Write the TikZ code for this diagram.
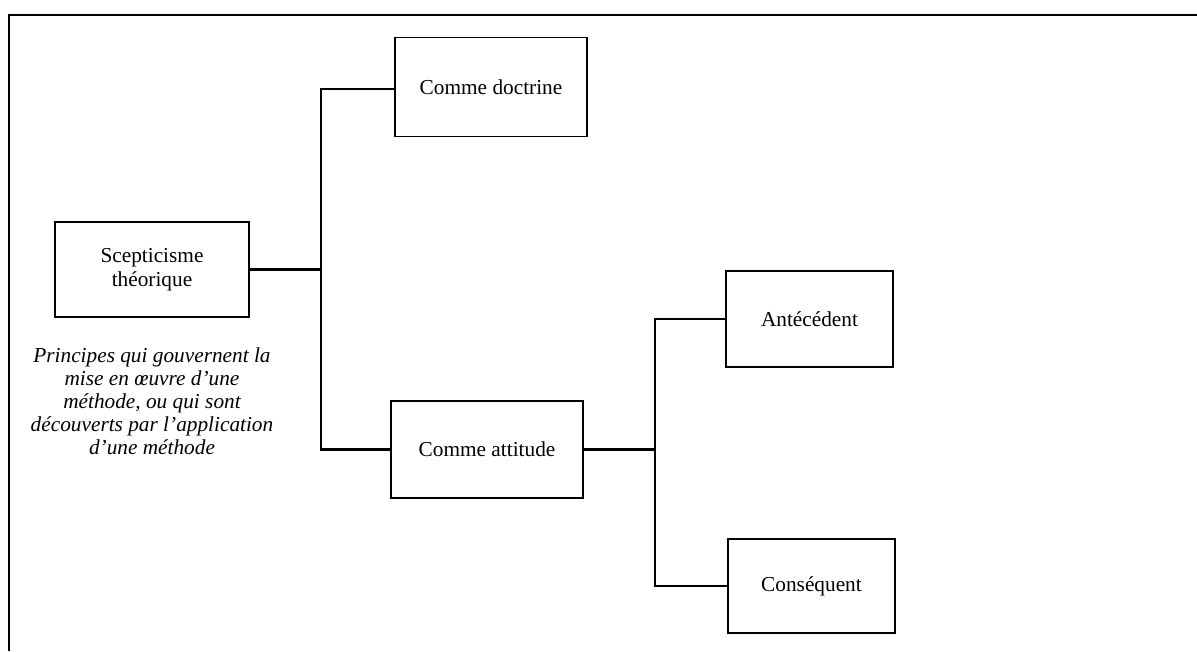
\documentclass[tikz,border=0pt]{standalone}
\usepackage{fontspec}
\setmainfont{Liberation Serif}
\begin{document}
\begin{tikzpicture}[x=1pt,y=-1pt,
  txt/.style={font=\fontsize{21.3}{24}\selectfont},
  box/.style={draw, line width=1.5pt, inner sep=0pt, align=center, txt},
  link/.style={draw, line width=2.2pt}]
\useasboundingbox (0,0) rectangle (1197,651);
\draw[line width=2.6pt] (9,651) -- (9,15) -- (1197,15);
\node[box, minimum width=194pt, minimum height=95pt] (scep) at (152,269.5) {Scepticisme\\th\'eorique};
\node[box, minimum width=192pt, minimum height=99pt] (doc) at (491,87) {Comme doctrine};
\node[box, minimum width=192pt, minimum height=97pt] (att) at (487,449.5) {Comme attitude};
\node[box, minimum width=167pt, minimum height=96pt] (ant) at (809.5,319) {Ant\'ec\'edent};
\node[box, minimum width=167pt, minimum height=94pt] (cons) at (811.5,586) {Cons\'equent};
\node[txt, align=center, font=\fontsize{21.3}{23}\selectfont\itshape] (note) at (152,401)
  {Principes qui gouvernent la\\mise en \oe uvre d’une\\m\'ethode, ou qui sont\\d\'ecouverts par l’application\\d’une m\'ethode};
\coordinate (j1) at (321,269.5);
\coordinate (j2) at (655,449.5);
\draw[link] (scep.east) -- (j1);
\draw[link] ([yshift=-2pt]doc.west) -| (j1) |- (att.west);
\draw[link] (att.east) -- (j2);
\draw[link] (ant.west) -| (j2) |- (cons.west);
\end{tikzpicture}
\end{document}
